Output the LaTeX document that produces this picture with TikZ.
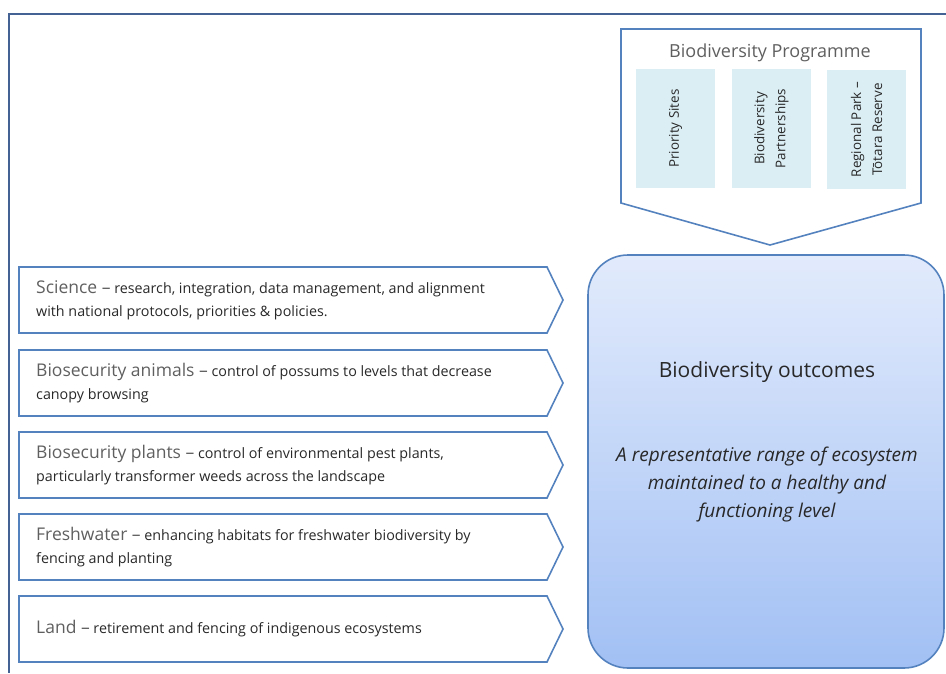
\documentclass[tikz,border=0pt]{standalone}
\usepackage{fontspec}
\setmainfont{Open Sans}
\usepackage{xcolor}
\definecolor{frame}{RGB}{68,98,148}
\definecolor{edge}{RGB}{84,130,190}
\definecolor{pale}{RGB}{219,238,244}
\definecolor{topblue}{RGB}{226,235,252}
\definecolor{lowblue}{RGB}{162,192,244}
\definecolor{head}{RGB}{95,95,95}
\definecolor{body}{RGB}{40,40,40}
\usetikzlibrary{positioning, calc, shapes}
\tikzstyle{Chevron} = [draw=edge, line width=1.6pt, line join=miter]
\tikzstyle{Sub} = [fill=pale, minimum width=119pt, minimum height=79pt,
rotate=90, align=center, text=body, font=\fontsize{13.4}{21}\selectfont]
\tikzstyle{Item} = [anchor=west, align=left, inner sep=0pt,
text=body, font=\fontsize{14.3}{23}\selectfont]
\newcommand{\hd}[1]{{\fontsize{17.5}{23}\selectfont\color{head}#1}}

\begin{document}
\begin{tikzpicture}[x=1pt, y=-1pt]
    \useasboundingbox (0,0) rectangle (946,673);
    \draw[frame, line width=2.4pt] (946,14) -- (9,14) -- (9,673);

    % programme
    \draw[Chevron] (621,29) -- (921,29) -- (921,203) -- (770,245) -- (621,203) -- cycle;
    \node[text=head, font=\fontsize{18}{20}\selectfont] (prog) at (770,53) {Biodiversity Programme};
    \node[Sub] (prio) at (675.5,128.5) {Priority Sites};
    \node[Sub] (part) at (771.5,128.5) {Biodiversity\\Partnerships};
    \node[Sub] (park) at (866.5,129.5) {Regional Park --\\Tōtara Reserve};

    % outcomes
    \node[draw=edge, line width=1.6pt, rounded corners=40pt, top color=topblue,
      bottom color=lowblue, minimum width=356pt, minimum height=413pt] (out) at (766,461.5) {};
    \node[text=body, font=\fontsize{21}{24}\selectfont] (outhead) at (767,372) {Biodiversity outcomes};
    \node[text=body, align=center, font=\itshape\fontsize{19}{28}\selectfont] (outtext) at (767,485)
      {A representative range of ecosystem\\maintained to a healthy and\\functioning level};

    % activities
    \foreach \y in {267,350,432,514,596}
      \draw[Chevron] (19,\y) -- ++(528,0) -- ++(16,33) -- ++(-16,33) -- ++(-528,0) -- cycle;
    \node[Item] (sci) at (36,300) {\hd{Science --} research, integration,  data management,  and alignment\\with national protocols, priorities \& policies.};
    \node[Item] (ani) at (36,383) {\hd{Biosecurity animals --} control of possums to levels that decrease\\canopy browsing};
    \node[Item] (pla) at (36,465) {\hd{Biosecurity plants --} control of environmental pest plants,\\particularly transformer weeds across the landscape};
    \node[Item] (fw) at (36,547) {\hd{Freshwater --} enhancing habitats for freshwater biodiversity by\\fencing and planting};
    \node[Item] (land) at (36,629) {\hd{Land --} retirement and fencing of indigenous ecosystems};
\end{tikzpicture}
\end{document}
